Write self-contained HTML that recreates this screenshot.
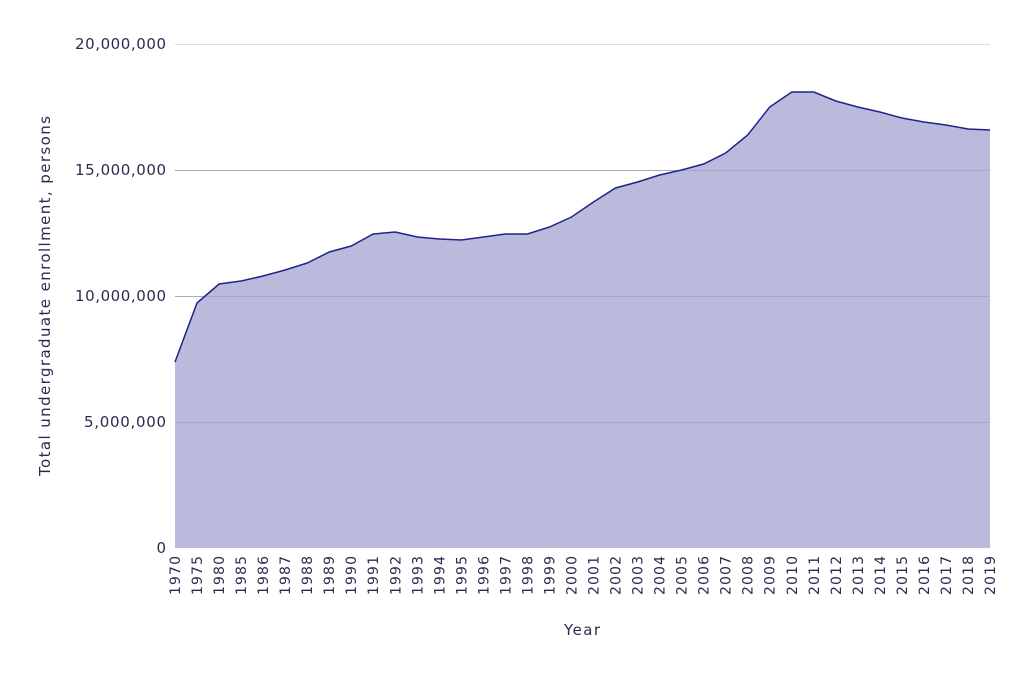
<!DOCTYPE html>
<html><head><meta charset="utf-8"><style>
html,body{margin:0;padding:0;background:#fff;}
svg{display:block;font-family:"DejaVu Sans","Liberation Sans",sans-serif;}
</style></head><body>
<svg width="1024" height="673" viewBox="0 0 1024 673" xmlns="http://www.w3.org/2000/svg">
<line x1="175" y1="44.5" x2="990" y2="44.5" stroke="#dcdcdc"/>
<line x1="175" y1="170.5" x2="990" y2="170.5" stroke="#dcdcdc"/>
<g font-size="15" fill="#2b2b50" text-anchor="end">
<text x="166" y="49" textLength="91">20,000,000</text>
<text x="166" y="175" textLength="91">15,000,000</text>
<text x="166" y="301" textLength="91">10,000,000</text>
<text x="166" y="427" textLength="82">5,000,000</text>
<text x="166" y="553">0</text>
</g>
<path fill="#babbdc" d="M175,548L175.0,362L197.0,303L219.1,284L241.1,281L263.1,276L285.1,270L307.2,263L329.2,252L351.2,246L373.2,234L395.3,232L417.3,237L439.3,239L461.4,240L483.4,237L505.4,234L527.4,234L549.5,227L571.5,217L593.5,202L615.5,188L637.6,182L659.6,175L681.6,170L703.6,164L725.7,153L747.7,135L769.7,107L791.8,92L813.8,92L835.8,101L857.8,107L879.9,112L901.9,118L923.9,122L945.9,125L968.0,129L990.0,130L990,548Z"/>
<g stroke="#a7a8c8" stroke-width="1">
<line x1="175" y1="170.5" x2="990" y2="170.5"/>
<line x1="175" y1="296.5" x2="990" y2="296.5"/>
<line x1="175" y1="422.5" x2="990" y2="422.5"/>
</g>
<path fill="none" stroke="#22228a" stroke-width="1.5" d="M175.0,362L197.0,303L219.1,284L241.1,281L263.1,276L285.1,270L307.2,263L329.2,252L351.2,246L373.2,234L395.3,232L417.3,237L439.3,239L461.4,240L483.4,237L505.4,234L527.4,234L549.5,227L571.5,217L593.5,202L615.5,188L637.6,182L659.6,175L681.6,170L703.6,164L725.7,153L747.7,135L769.7,107L791.8,92L813.8,92L835.8,101L857.8,107L879.9,112L901.9,118L923.9,122L945.9,125L968.0,129L990.0,130"/>
<g font-size="14" fill="#2b2b50" text-anchor="end">
<text transform="translate(180,556) rotate(-90)" textLength="39">1970</text>
<text transform="translate(202,556) rotate(-90)" textLength="39">1975</text>
<text transform="translate(224.1,556) rotate(-90)" textLength="39">1980</text>
<text transform="translate(246.1,556) rotate(-90)" textLength="39">1985</text>
<text transform="translate(268.1,556) rotate(-90)" textLength="39">1986</text>
<text transform="translate(290.1,556) rotate(-90)" textLength="39">1987</text>
<text transform="translate(312.2,556) rotate(-90)" textLength="39">1988</text>
<text transform="translate(334.2,556) rotate(-90)" textLength="39">1989</text>
<text transform="translate(356.2,556) rotate(-90)" textLength="39">1990</text>
<text transform="translate(378.2,556) rotate(-90)" textLength="39">1991</text>
<text transform="translate(400.3,556) rotate(-90)" textLength="39">1992</text>
<text transform="translate(422.3,556) rotate(-90)" textLength="39">1993</text>
<text transform="translate(444.3,556) rotate(-90)" textLength="39">1994</text>
<text transform="translate(466.4,556) rotate(-90)" textLength="39">1995</text>
<text transform="translate(488.4,556) rotate(-90)" textLength="39">1996</text>
<text transform="translate(510.4,556) rotate(-90)" textLength="39">1997</text>
<text transform="translate(532.4,556) rotate(-90)" textLength="39">1998</text>
<text transform="translate(554.5,556) rotate(-90)" textLength="39">1999</text>
<text transform="translate(576.5,556) rotate(-90)" textLength="39">2000</text>
<text transform="translate(598.5,556) rotate(-90)" textLength="39">2001</text>
<text transform="translate(620.5,556) rotate(-90)" textLength="39">2002</text>
<text transform="translate(642.6,556) rotate(-90)" textLength="39">2003</text>
<text transform="translate(664.6,556) rotate(-90)" textLength="39">2004</text>
<text transform="translate(686.6,556) rotate(-90)" textLength="39">2005</text>
<text transform="translate(708.6,556) rotate(-90)" textLength="39">2006</text>
<text transform="translate(730.7,556) rotate(-90)" textLength="39">2007</text>
<text transform="translate(752.7,556) rotate(-90)" textLength="39">2008</text>
<text transform="translate(774.7,556) rotate(-90)" textLength="39">2009</text>
<text transform="translate(796.8,556) rotate(-90)" textLength="39">2010</text>
<text transform="translate(818.8,556) rotate(-90)" textLength="39">2011</text>
<text transform="translate(840.8,556) rotate(-90)" textLength="39">2012</text>
<text transform="translate(862.8,556) rotate(-90)" textLength="39">2013</text>
<text transform="translate(884.9,556) rotate(-90)" textLength="39">2014</text>
<text transform="translate(906.9,556) rotate(-90)" textLength="39">2015</text>
<text transform="translate(928.9,556) rotate(-90)" textLength="39">2016</text>
<text transform="translate(950.9,556) rotate(-90)" textLength="39">2017</text>
<text transform="translate(973,556) rotate(-90)" textLength="39">2018</text>
<text transform="translate(995,556) rotate(-90)" textLength="39">2019</text>
</g>
<text transform="translate(50,296) rotate(-90)" font-size="15" fill="#2b2b50" text-anchor="middle" textLength="360">Total undergraduate enrollment, persons</text>
<text x="582" y="635" font-size="15" fill="#2b2b50" text-anchor="middle" textLength="36">Year</text>
</svg>
</body></html>
